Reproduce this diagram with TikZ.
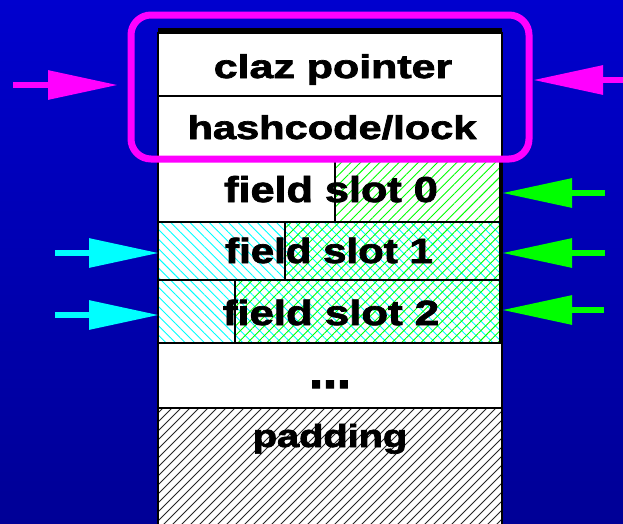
\documentclass[tikz,border=0pt]{standalone}
\usepackage{graphicx}
\usepackage{fontspec}
\setmainfont{Liberation Sans}
\newfontfamily\lblfont[FakeBold=2]{Liberation Sans Bold}
\newcommand\mylbl[3]{\scalebox{#1}[1]{\lblfont\fontsize{#2}{#2}\selectfont #3}}
\usetikzlibrary{arrows.meta,patterns.meta}
\definecolor{bgtop}{RGB}{0,0,206}
\definecolor{bgbot}{RGB}{0,0,150}
\definecolor{mag}{RGB}{255,0,255}
\definecolor{grn}{RGB}{0,255,0}
\definecolor{cyn}{RGB}{0,255,255}
\begin{document}
\begin{tikzpicture}[x=1pt,y=-1pt,
  cell/.style={draw=black, line width=2pt, fill=white, minimum width=344pt, inner sep=0pt, outer sep=0pt},
  sub/.style={draw=black, line width=1.5pt, inner sep=0pt, outer sep=0pt, pattern={Lines[angle=45,distance=6.8pt,line width=0.9pt]}, pattern color=grn},
  cyanhatch/.style={pattern={Lines[angle=-45,distance=6.8pt,line width=0.9pt]}, pattern color=cyn},
  lbl/.style={anchor=base, inner sep=0pt},
  ptr/.style={-{Triangle[length=70pt,width=28pt]}, line width=6pt}
]
\useasboundingbox (0,0) rectangle (623,523);
\shade[top color=bgtop, bottom color=bgbot] (0,0) rectangle (623,523);

% rows
\node[cell, minimum height=63pt] (claz) at (330,64.5) {};
\node[cell, minimum height=61pt] (hash) at (330,126.5) {};
\node[cell, minimum height=65pt] (slot0) at (330,189.5) {};
\node[cell, minimum height=58pt, preaction={fill=white}, cyanhatch] (slot1) at (330,251) {};
\node[cell, minimum height=63pt, preaction={fill=white}, cyanhatch] (slot2) at (330,311.5) {};
\node[cell, minimum height=65pt] (dots) at (330,375.5) {};
\node[cell, minimum height=125pt] (pad) at (330,470.5) {};
\begin{scope}
  \clip (pad.north west) rectangle (pad.south east);
  \foreach \i in {-15,...,40} {
    \draw[black!85, line width=0.9pt] (130+9*\i,540) -- (130+9*\i+140,400);
  }
\end{scope}
\draw[black, line width=2pt] (pad.north west) rectangle (pad.south east);
\fill[black] (158,28) rectangle (502,34);

% green sub-areas
\node[sub, minimum width=165pt, minimum height=65pt] (g0) at (417.5,189.5) {};
\node[sub, minimum width=215pt, minimum height=58pt] (g1) at (392.5,251) {};
\node[sub, minimum width=265pt, minimum height=63pt, line width=2.5pt] (g2) at (367.5,311.5) {};

% labels
\node[lbl] (t0) at (333,78) {\mylbl{1.3}{33}{claz pointer}};
\node[lbl] (t1) at (332,139) {\mylbl{1.26}{33}{hashcode/lock}};
\node[lbl] (t2) at (331,202) {\mylbl{1.2}{36}{field slot 0}};
\node[lbl] (t3) at (329,263) {\mylbl{1.2}{35}{field slot 1}};
\node[lbl] (t4) at (331,325) {\mylbl{1.25}{35}{field slot 2}};
\node[lbl] (t5) at (330,388) {\mylbl{1}{50}{...}};
\node[lbl] (t6) at (330,447) {\mylbl{1.24}{32}{padding}};

% magenta header frame
\draw[mag, line width=7pt, rounded corners=20pt] (131,15) rectangle (529,159);

% arrows
\coordinate (mlA) at (13,85);   \coordinate (mlB) at (118,85);
\coordinate (mrA) at (623,80);  \coordinate (mrB) at (533,80);
\coordinate (g0A) at (605,193); \coordinate (g0B) at (502,193);
\coordinate (g1A) at (605,253); \coordinate (g1B) at (502,253);
\coordinate (g2A) at (604,310); \coordinate (g2B) at (502,310);
\coordinate (c1A) at (55,253);  \coordinate (c1B) at (159,253);
\coordinate (c2A) at (55,315);  \coordinate (c2B) at (159,315);
\draw[ptr, mag] (mlA) -- (mlB);
\draw[ptr, mag] (mrA) -- (mrB);
\draw[ptr, grn] (g0A) -- (g0B);
\draw[ptr, grn] (g1A) -- (g1B);
\draw[ptr, grn] (g2A) -- (g2B);
\draw[ptr, cyn] (c1A) -- (c1B);
\draw[ptr, cyn] (c2A) -- (c2B);
\end{tikzpicture}
\end{document}
